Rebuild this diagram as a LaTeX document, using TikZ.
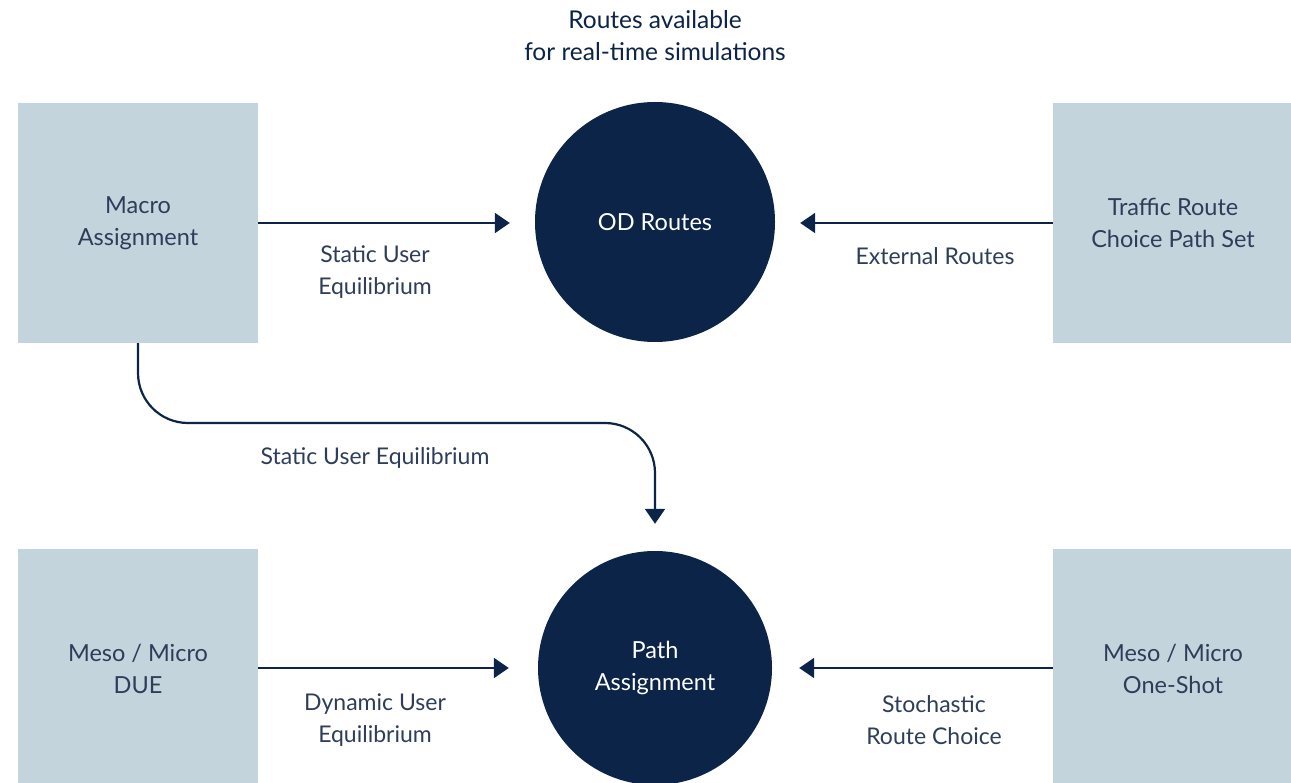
\documentclass[tikz,border=0pt]{standalone}
\usepackage{fontspec}
\setmainfont{Lato}
\usetikzlibrary{arrows.meta,calc}
\definecolor{boxfill}{HTML}{C4D4DD}
\definecolor{navy}{HTML}{0B2447}
\definecolor{txt}{HTML}{2E3D5A}
\tikzset{
  srcbox/.style={fill=boxfill, draw=none, minimum width=240pt, minimum height=240pt, inner sep=0pt, align=center, text=txt, font=\fontsize{23.5}{32}\selectfont},
  hub/.style={circle, fill=navy, draw=none, minimum size=#1, inner sep=0pt, align=center, text=white, font=\fontsize{23.5}{32}\selectfont},
  lbl/.style={align=center, text=txt, font=\fontsize{23}{32}\selectfont, inner sep=0pt},
  arr/.style={draw=navy, line width=2.2pt, -{Triangle[length=15pt,width=20pt]}},
}
\begin{document}
\begin{tikzpicture}[x=1pt,y=-1pt]
\useasboundingbox (0,0) rectangle (1291,783);
\begin{scope}
\clip (0,0) rectangle (1291,783);
\node[srcbox] (macro) at (138,223) {Macro\\Assignment};
\node[srcbox] (traffic) at (1173,223) {Traffic Route\\Choice Path Set};
\node[srcbox] (due) at (138,669) {Meso / Micro\\DUE};
\node[srcbox] (oneshot) at (1173,669) {Meso / Micro\\One-Shot};
\node[hub=240pt] (od) at (655,222) {OD Routes};
\node[hub=234pt] (path) at (655,668) {Path\\Assignment};
\end{scope}
\node[lbl, font=\fontsize{24.5}{32}\selectfont, text=navy] (title) at (655,36) {Routes available\\for real-time simulations};
\draw[arr, shorten >=25pt] (macro.east) -- (macro.east -| od.west);
\draw[arr, shorten >=25pt] (traffic.west) -- (traffic.west -| od.east);
\draw[arr, shorten >=29pt] (due.east |- path) -- (path.west);
\draw[arr, shorten >=27pt] (oneshot.west |- path) -- (path.east);
\coordinate (bend) at (655,423);
\draw[arr, rounded corners=50pt, shorten >=27pt] (macro.south) |- (bend) -- (path.north);
\node[lbl] (l1) at (375,272) {Static User\\Equilibrium};
\node[lbl] (l2) at (935,256) {External Routes};
\node[lbl] (l3) at (375,458) {Static User Equilibrium};
\node[lbl] (l4) at (375,720) {Dynamic User\\Equilibrium};
\node[lbl] (l5) at (934,720) {Stochastic\\Route Choice};
\end{tikzpicture}
\end{document}
